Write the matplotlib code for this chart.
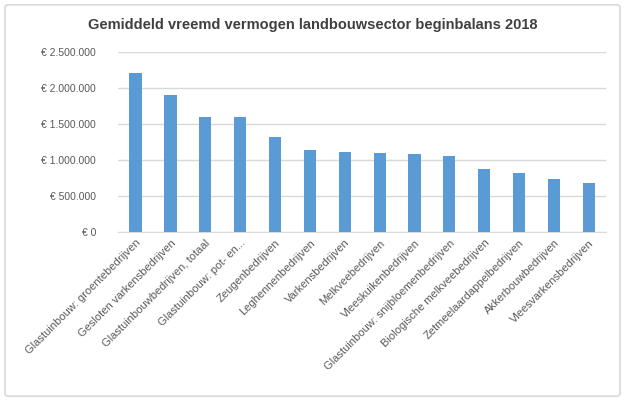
import matplotlib.pyplot as plt
from matplotlib.patches import FancyBboxPatch

categories = [
    "Glastuinbouw: groentebedrijven",
    "Gesloten varkensbedrijven",
    "Glastuinbouwbedrijven, totaal",
    "Glastuinbouw: pot- en...",
    "Zeugenbedrijven",
    "Leghennenbedrijven",
    "Varkensbedrijven",
    "Melkveebedrijven",
    "Vleeskuikenbedrijven",
    "Glastuinbouw: snijbloemenbedrijven",
    "Biologische melkveebedrijven",
    "Zetmeelaardappelbedrijven",
    "Akkerbouwbedrijven",
    "Vleesvarkensbedrijven",
]
values = [2210000, 1907000, 1598000, 1598000, 1316000, 1141000, 1113000,
          1104000, 1086000, 1053000, 882000, 827000, 734000, 679000]
yticks = [0, 500000, 1000000, 1500000, 2000000, 2500000]
ytick_labels = ["€ 0", "€ 500.000", "€ 1.000.000", "€ 1.500.000", "€ 2.000.000", "€ 2.500.000"]

plt.rcParams['font.family'] = ['Liberation Sans', 'DejaVu Sans']

fig = plt.figure(figsize=(6.25, 4.01), dpi=100)

# rand om de grafiek
border = FancyBboxPatch((0.008, 0.012), 0.984, 0.976, boxstyle="round,pad=0,rounding_size=0.006",
                        transform=fig.transFigure, fill=False, edgecolor='#d9d9d9', linewidth=1.2)
fig.patches.append(border)

ax = fig.add_axes([0.189, 0.421, 0.781, 0.449])
x = range(len(categories))
ax.bar(x, values, width=0.35, color='#5b9bd5', zorder=3)

ax.set_ylim(0, 2500000)
ax.set_xlim(-0.5, len(categories) - 0.5)
ax.set_yticks(yticks)
ax.set_yticklabels(ytick_labels, fontsize=7.5, color='#595959')
ax.set_xticks(list(x))
ax.set_xticklabels(categories, rotation=45, ha='right', rotation_mode='anchor',
                   fontsize=8, color='#595959')
ax.tick_params(axis='y', length=0, pad=16)
ax.tick_params(axis='x', length=0, pad=4)
ax.grid(axis='y', color='#d9d9d9', linewidth=1, zorder=0)
for s in ['top', 'right', 'left']:
    ax.spines[s].set_visible(False)
ax.spines['bottom'].set_color('#d9d9d9')

fig.text(0.5, 0.937, "Gemiddeld vreemd vermogen landbouwsector beginbalans 2018",
         ha='center', va='center', fontsize=10.5, fontweight='bold', color='#404040')

fig.savefig("out.png", dpi=100)
